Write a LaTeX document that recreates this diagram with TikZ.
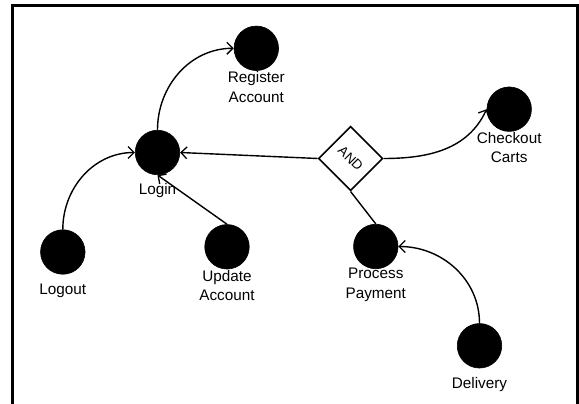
\documentclass[tikz,border=0pt]{standalone}
\usepackage{graphicx}
\usepackage{fontspec}
\setmainfont{Liberation Sans}
\usetikzlibrary{shapes.geometric,arrows.meta}
\tikzset{
  ball/.style={circle,fill=black,draw=black,line width=0.6pt,minimum size=44.5pt,inner sep=0pt},
  lbl/.style={align=center,font=\fontsize{15.3}{19.5}\selectfont,inner sep=0pt},
  gate/.style={diamond,draw=black,line width=1.6pt,fill=white,minimum width=64.5pt,minimum height=64.5pt,inner sep=0pt,aspect=1,font=\fontsize{13.5}{16}\selectfont},
  conn/.style={line width=1.4pt},
  arr/.style={conn,-{Straight Barb[length=6pt,width=12pt,line width=1.3pt]}},
  frame/.style={line width=3pt}
}
\begin{document}
\begin{tikzpicture}[x=1pt,y=1pt]
\useasboundingbox (0,0) rectangle (579,404);
\clip (0,0) rectangle (579,404);
\draw[frame] (12.7,398.3) rectangle (577,-10);

% circles
\node[ball] (login) at (157.5,251.5) {};
\node[ball] (reg) at (256.3,355.7) {};
\node[ball] (logout) at (62.8,152) {};
\node[ball] (update) at (227,157.2) {};
\node[ball] (checkout) at (509.2,294.8) {};
\node[ball] (process) at (375.8,157.5) {};
\node[ball] (delivery) at (479.5,58.2) {};

% gate
\node[gate] (andg) at (350.6,245.5) {\raisebox{-2pt}{\rotatebox{-45}{AND}}};

% connectors
\draw[arr] (andg.west) -- (login.east);
\draw[conn] (andg.south) -- (process.north);
\draw[arr] (andg.east) to[out=0,in=245] (checkout.west);
\draw[arr] (login.north) to[out=90,in=180] (reg.west);
\draw[arr] (logout.north) to[out=90,in=180] (login.west);
\draw[arr] (update.north) -- (login.south);
\draw[arr] (delivery.north) to[out=90,in=0] (process.east);

% labels
\node[lbl] (loginl) at (157.5,213) {Login};
\node[lbl] (regl) at (256.3,317.2) {Register\\Account};
\node[lbl] (logoutl) at (62.8,113.5) {Logout};
\node[lbl] (updatel) at (227,118.7) {Update\\Account};
\node[lbl] (checkoutl) at (509.2,256.3) {Checkout\\Carts};
\node[lbl] (processl) at (375.8,119) {Process\\Payment};
\node[lbl] (deliveryl) at (479.5,19.7) {Delivery};
\end{tikzpicture}
\end{document}
